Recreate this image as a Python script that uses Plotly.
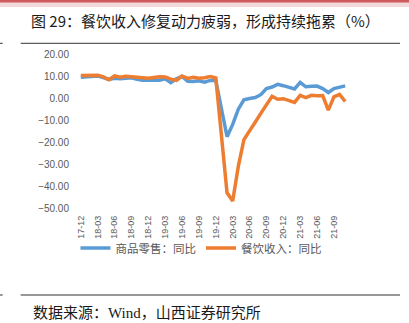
import plotly.graph_objects as go

# ---- data ----
months = [
    "17-12",
    "18-01", "18-02", "18-03", "18-04", "18-05", "18-06", "18-07", "18-08", "18-09", "18-10", "18-11", "18-12",
    "19-01", "19-02", "19-03", "19-04", "19-05", "19-06", "19-07", "19-08", "19-09", "19-10", "19-11", "19-12",
    "20-01", "20-02", "20-03", "20-04", "20-05", "20-06", "20-07", "20-08", "20-09", "20-10", "20-11", "20-12",
    "21-01", "21-02", "21-03", "21-04", "21-05", "21-06", "21-07", "21-08", "21-09", "21-10", "21-11",
]
goods_yoy = [
    9.4,
    None, 9.6, 10.0, 9.3, 8.4, 9.0, 8.8, 9.0, 9.2, 8.5, 8.1, 8.2,
    None, 8.1, 8.7, 7.0, 8.7, 9.8, 7.6, 7.5, 7.8, 7.2, 8.0, 7.9,
    None, -17.6, -12.0, -5.1, -0.8, -0.2, 0.2, 1.5, 4.3, 5.0, 6.2, 5.6,
    None, 4.1, 7.1, 5.1, 5.3, 5.4, 4.3, 2.5, 4.3, 5.0, 5.5,
]
catering_yoy = [
    10.2,
    None, 10.1, 10.3, 9.6, 8.3, 10.0, 9.4, 9.9, 9.7, 9.3, 9.1, 9.0,
    None, 9.7, 9.6, 8.6, 8.0, 10.0, 8.9, 9.4, 9.0, 9.2, 9.8, 9.1,
    None, -43.1, -46.8, -31.1, -18.9, -15.2, -11.0, -7.0, -2.9, 0.8, -0.6, -0.3,
    None, -2.0, 1.2, 0.2, 1.2, 1.0, 1.1, -5.5, 0.5, 1.6, -1.6,
]
series_names = ["商品零售：同比", "餐饮收入：同比"]
tick_labels = months[::3]

title_text = "图 29：餐饮收入修复动力疲弱，形成持续拖累（%）"
source_text = "数据来源：Wind，山西证券研究所"

# ---- layout geometry ----
W, H = 409, 323
ML, MR, MT, MB = 78, 61, 54, 115
PW, PH = W - ML - MR, H - MT - MB


def px(x):
    return (x - ML) / PW


def py(y):
    return (H - MB - y) / PH


idx = list(range(len(months)))
tick_idx = idx[::3]
boundaries = [i - 0.5 for i in range(0, len(months) + 1, 3)]

fig = go.Figure()
fig.add_trace(go.Scatter(x=idx, y=goods_yoy, name=series_names[0], mode="lines",
                         line=dict(color="#5B9BD5", width=3.5), connectgaps=True))
fig.add_trace(go.Scatter(x=idx, y=catering_yoy, name=series_names[1], mode="lines",
                         line=dict(color="#ED7D31", width=3.5), connectgaps=True))

xtickfont = dict(family="Liberation Sans, Arial, sans-serif", size=9, color="#595959")
ytickfont = dict(family="Liberation Sans, Arial, sans-serif", size=10, color="#595959")

fig.update_layout(
    width=W, height=H,
    margin=dict(l=ML, r=MR, t=MT, b=MB, autoexpand=False),
    paper_bgcolor="white", plot_bgcolor="white",
    title=dict(text=title_text, x=31 / W, xanchor="left", xref="container",
               y=1 - 22 / H, yanchor="middle", yref="container",
               font=dict(family="Noto Sans CJK SC", size=15, color="#1a1a1a")),
    xaxis=dict(range=[-0.5, len(months) - 0.5], tickmode="array", tickvals=tick_idx,
               ticktext=tick_labels, tickangle=-90, tickfont=xtickfont,
               showline=False, showgrid=False, zeroline=False, ticks="", ticklabelstandoff=5),
    xaxis2=dict(overlaying="x", anchor="free", position=50 / 70,
                range=[-0.5, len(months) - 0.5], tickmode="array", tickvals=boundaries,
                showticklabels=False, ticks="outside", ticklen=3, tickcolor="#BFBFBF",
                showline=True, linecolor="#BFBFBF", linewidth=1, showgrid=False, zeroline=False),
    yaxis=dict(range=[-50, 20], dtick=10, tick0=0, tickformat=".2f", tickfont=ytickfont,
               showline=False, showgrid=False, zeroline=False, ticks="", ticklabelstandoff=8),
    legend=dict(orientation="h", x=px(201), xanchor="center", y=py(248), yanchor="middle",
                font=dict(family="Noto Sans CJK SC", size=11.5, color="#595959"),
                bgcolor="rgba(0,0,0,0)", itemwidth=30, tracegroupgap=0),
    showlegend=True,
)

fig.add_annotation(text=source_text, xref="paper", yref="paper", x=px(31), y=py(313),
                   xanchor="left", yanchor="middle", showarrow=False,
                   font=dict(family="Liberation Serif, Noto Sans CJK SC", size=15, color="#1a1a1a"))

shapes = [
    # top red band
    dict(type="rect", xref="paper", yref="paper", x0=px(0), x1=px(W), y0=py(2.7), y1=py(0),
         fillcolor="#CF5A5C", line=dict(width=0), layer="above"),
    dict(type="rect", xref="paper", yref="paper", x0=px(0), x1=px(W), y0=py(7), y1=py(2.7),
         fillcolor="#F3DADA", line=dict(width=0), layer="above"),
    # rule under title
    dict(type="line", xref="paper", yref="paper", x0=px(20.7), x1=px(400), y0=py(43.3), y1=py(43.3),
         line=dict(color="#333333", width=1)),
    dict(type="line", xref="paper", yref="paper", x0=px(0), x1=px(2.7), y0=py(43.3), y1=py(43.3),
         line=dict(color="#333333", width=1)),
    # rule above source
    dict(type="line", xref="paper", yref="paper", x0=px(20.7), x1=px(400), y0=py(295), y1=py(295),
         line=dict(color="#333333", width=1)),
    dict(type="line", xref="paper", yref="paper", x0=px(0), x1=px(2.7), y0=py(295), y1=py(295),
         line=dict(color="#333333", width=1)),
]
fig.update_layout(shapes=shapes)

fig.write_html("out.html")
